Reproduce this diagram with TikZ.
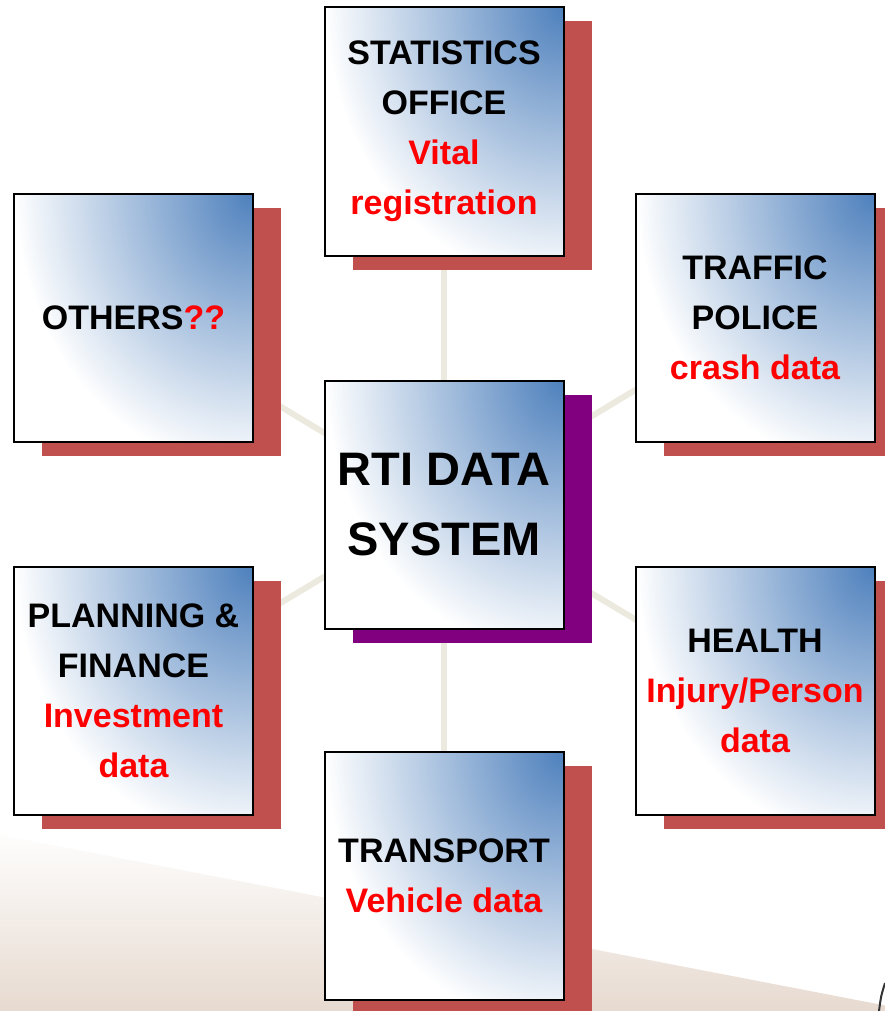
\documentclass[tikz,border=0pt]{standalone}
\usepackage{fontspec}
\setmainfont{Liberation Sans}
\usetikzlibrary{shadows,backgrounds}
\definecolor{boxblue}{HTML}{4F81BD}
\definecolor{shadered}{HTML}{C0504D}
\definecolor{shadepurple}{HTML}{800080}
\definecolor{linkbeige}{RGB}{236,233,222}
\definecolor{sweepbrown}{RGB}{206,180,160}
\newcommand{\redtxt}[1]{\textcolor{red}{#1}}

\begin{document}
\begin{tikzpicture}[x=1pt,y=-1pt,
    info box/.style={rectangle, draw=black, fill=white, line width=2pt, minimum width=239pt, minimum height=248pt, inner sep=0pt, align=center,
        font=\fontsize{34}{50}\selectfont\bfseries,
        path picture={\shade[inner color=boxblue, outer color=white] (path picture bounding box.north east) ellipse (235pt and 275pt);},
        general shadow={fill=#1, shadow xshift=28pt, shadow yshift=-14pt}},
    info box/.default=shadered,
    link/.style={draw=linkbeige, line width=6pt}]

    \useasboundingbox (0,0) rectangle (885,1011);

    \node[info box=shadepurple, font=\fontsize{47}{70}\selectfont\bfseries] (c) at (444,505) {RTI DATA\\SYSTEM};
    \node[info box] (stat)  at (444,131.5) {STATISTICS\\OFFICE\\\redtxt{Vital}\\\redtxt{registration}};
    \node[info box] (oth)   at (133.5,318) {OTHERS\redtxt{??}};
    \node[info box] (traf)  at (755,318)   {TRAFFIC\\POLICE\\\redtxt{crash data}};
    \node[info box] (plan)  at (133.5,691) {PLANNING \&\\FINANCE\\\redtxt{Investment}\\\redtxt{data}};
    \node[info box] (hlth)  at (755,691)   {HEALTH\\\redtxt{Injury/Person}\\\redtxt{data}};
    \node[info box] (trans) at (444,876)   {TRANSPORT\\\redtxt{Vehicle data}};

    \begin{scope}[on background layer]
        \begin{scope}
            \clip (0,835) -- (885,1005) -- (885,1011) -- (0,1011) -- cycle;
            \shade[top color=white, bottom color=sweepbrown, shift={(0,835)}, rotate=-10.9] (-50,0) rectangle (1000,180);
        \end{scope}
        \draw[line width=2pt, black!80] (885,983) .. controls (881,996) .. (879,1011);

        \draw[link] (c.center) -- (stat.center);
        \draw[link] (c.center) -- (oth.center);
        \draw[link] (c.center) -- (traf.center);
        \draw[link] (c.center) -- (plan.center);
        \draw[link] (c.center) -- (hlth.center);
        \draw[link] (c.center) -- (trans.center);
    \end{scope}
\end{tikzpicture}
\end{document}
